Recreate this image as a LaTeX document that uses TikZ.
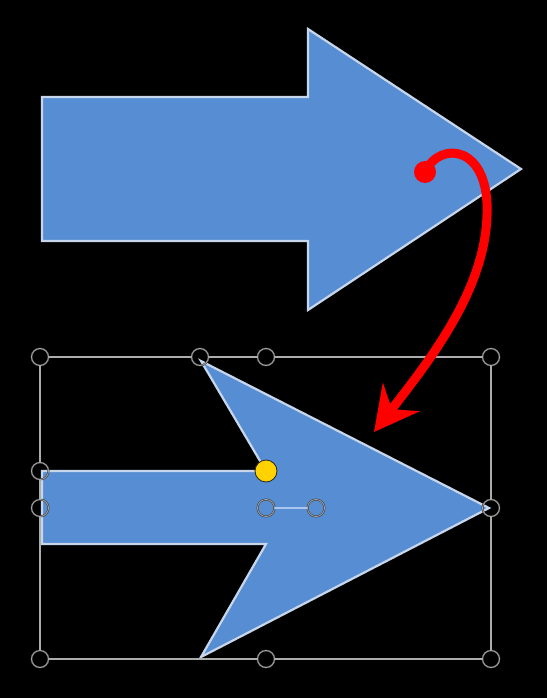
\documentclass[tikz,border=0pt]{standalone}
\usepackage{tikz}
\usetikzlibrary{arrows.meta, positioning}
\definecolor{shapeblue}{RGB}{86,141,211}
\definecolor{shapeedge}{RGB}{200,214,236}
\definecolor{rotline}{RGB}{170,198,240}
\definecolor{adjyellow}{RGB}{255,210,0}

\begin{document}
\begin{tikzpicture}[x=1pt, y=-1pt,
    arrowshape/.style={fill=shapeblue, draw=shapeedge, line width=2.2pt, line join=miter},
    frame/.style={draw=gray!65, line width=2pt},
    handle/.style={circle, draw=black!80, double=gray!70, double distance=0.9pt, line width=0.5pt, minimum size=17pt, inner sep=0pt},
    adjhandle/.style={circle, fill=adjyellow, draw=black!85, line width=0.8pt, minimum size=22pt, inner sep=0pt},
    drag/.style={draw=red, line width=9pt, line cap=round, -{Stealth[length=44pt, width=46pt, inset=15pt]}}]
    % background and page size
    \fill[black] (0,0) rectangle (547,698);
    % original arrow
    \draw[arrowshape] (42,97) -- (308,97) -- (308,29) -- (521,169) -- (308,310) -- (308,241) -- (42,241) -- cycle;
    % reshaped arrow
    \draw[arrowshape] (42,471) -- (266,471) -- (201,361) -- (489,508) -- (201,657) -- (266,544) -- (42,544) -- cycle;
    % selection handles
    \node[handle] (tl) at (40,357) {};
    \node[handle] (adjtop) at (200,357) {};
    \node[handle] (tm) at (266,357) {};
    \node[handle] (tr) at (491,357) {};
    \node[handle] (rm) at (491,508) {};
    \node[handle] (br) at (491,659) {};
    \node[handle] (bm) at (266,659) {};
    \node[handle] (bl) at (40,659) {};
    \node[handle] (lm) at (40,508) {};
    \node[handle] (adjleft) at (40,471) {};
    \node[handle] (rot1) at (266,508) {};
    \node[handle] (rot2) at (316,508) {};
    \draw[frame] (tl) -- (adjtop) -- (tm) -- (tr) -- (rm) -- (br) -- (bm) -- (bl) -- (lm) -- (adjleft) -- (tl);
    \draw[draw=rotline, line width=2.2pt] (rot1) -- (rot2);
    \node[adjhandle] (adj) at (266,471) {};
    % drag gesture
    \coordinate (dragstart) at (425,172);
    \coordinate (dragend) at (374,432);
    \draw[drag] (dragstart) .. controls (440,140) and (490,145) .. (487,215) .. controls (485,290) and (430,360) .. (dragend);
    \fill[red] (dragstart) circle (11);
\end{tikzpicture}
\end{document}
